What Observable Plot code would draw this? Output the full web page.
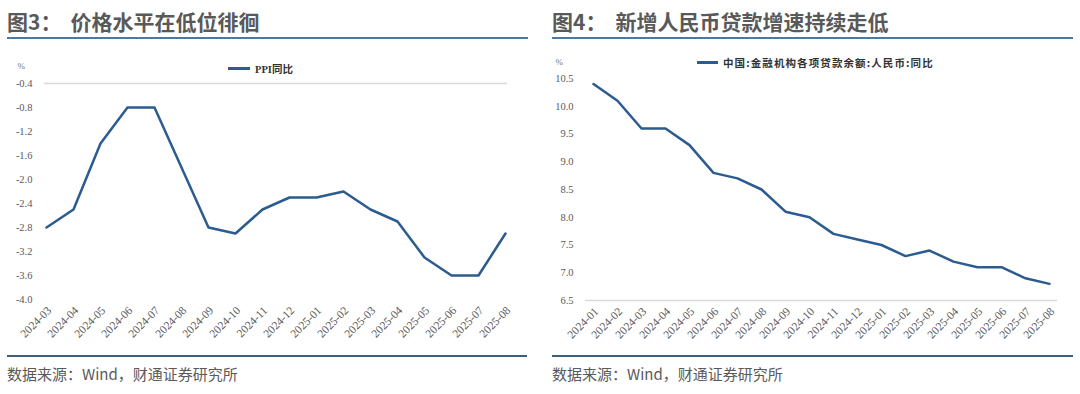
<!DOCTYPE html>
<html>
<head>
<meta charset="utf-8">
<script src="https://cdn.jsdelivr.net/npm/d3@7"></script>
<script src="https://cdn.jsdelivr.net/npm/@observablehq/plot@0.6"></script>
<style>
  html, body { margin: 0; padding: 0; background: #fff; }
  #page { position: relative; width: 1080px; height: 394px; overflow: hidden; background: #fff; }
  .title { position: absolute; top: 9px; font-family: "Noto Sans CJK SC", "Noto Sans", sans-serif; font-size: 21px; line-height: 24px; color: #595959; font-weight: bold; white-space: nowrap; }
  .title .t2 { margin-left: 9px; }
  .rule-top { position: absolute; top: 37px; height: 2px; background: #4a7aa3; }
  .rule-bot { position: absolute; top: 355px; height: 2px; background: #3b5f7c; }
  .caption { position: absolute; top: 364px; font-family: "Noto Sans CJK SC", "Noto Sans", sans-serif; font-size: 15px; line-height: 20px; color: #5a5a5a; white-space: nowrap; }
  .chart { position: absolute; top: 40px; }
  .chart svg text { font-family: "Liberation Serif", "Times New Roman", serif; }
  .legend { position: absolute; display: flex; align-items: center; font-family: "Liberation Serif", "Noto Sans CJK SC", serif; font-weight: bold; font-size: 10.5px; color: #333; white-space: nowrap; }
  .legend .sw { display: inline-block; height: 2.5px; background: #2c5b8f; margin-right: 5px; }
  .legend.cjk { font-family: "Noto Sans CJK SC", sans-serif; font-size: 10.5px; letter-spacing: 1.1px; }
</style>
</head>
<body>
<div id="page">
  <div class="title" style="left:7px;">图3：<span class="t2">价格水平在低位徘徊</span></div>
  <div class="rule-top" style="left:7px; width:521px;"></div>
  <div class="title" style="left:552px;">图4：<span class="t2">新增人民币贷款增速持续走低</span></div>
  <div class="rule-top" style="left:552px; width:521px;"></div>

  <div class="chart" id="left" style="left:0px;"></div>
  <div class="chart" id="right" style="left:540px;"></div>

  <div class="legend" style="left:228px; top:61px;"><span class="sw" style="width:22px;"></span>PPI同比</div>
  <div class="legend cjk" style="left:697px; top:55px;"><span class="sw" style="width:21px;"></span>中国:金融机构各项贷款余额:人民币:同比</div>

  <div class="rule-bot" style="left:7px; width:520px;"></div>
  <div class="rule-bot" style="left:552px; width:521px;"></div>
  <div class="caption" style="left:7px;">数据来源：Wind，财通证券研究所</div>
  <div class="caption" style="left:552px;">数据来源：Wind，财通证券研究所</div>
</div>
<script>
// ---- Data ----
const ppiMonths = ["2024-03","2024-04","2024-05","2024-06","2024-07","2024-08","2024-09","2024-10","2024-11","2024-12","2025-01","2025-02","2025-03","2025-04","2025-05","2025-06","2025-07","2025-08"];
const ppiValues = [-2.8,-2.5,-1.4,-0.8,-0.8,-1.8,-2.8,-2.9,-2.5,-2.3,-2.3,-2.2,-2.5,-2.7,-3.3,-3.6,-3.6,-2.9];
const ppiTicks = [-0.4,-0.8,-1.2,-1.6,-2.0,-2.4,-2.8,-3.2,-3.6,-4.0];

const loanMonths = ["2024-01","2024-02","2024-03","2024-04","2024-05","2024-06","2024-07","2024-08","2024-09","2024-10","2024-11","2024-12","2025-01","2025-02","2025-03","2025-04","2025-05","2025-06","2025-07","2025-08"];
const loanValues = [10.4,10.1,9.6,9.6,9.3,8.8,8.7,8.5,8.1,8.0,7.7,7.6,7.5,7.3,7.4,7.2,7.1,7.1,6.9,6.8];
const loanTicks = [10.5,10.0,9.5,9.0,8.5,8.0,7.5,7.0,6.5];

const ppiData = ppiMonths.map((m, i) => ({month: m, value: ppiValues[i]}));
const loanData = loanMonths.map((m, i) => ({month: m, value: loanValues[i]}));

const lineColor = "#2c5b8f";
const serif = "'Liberation Serif', 'Times New Roman', serif";
const baseStyle = {fontFamily: serif, fontSize: "10.5px", color: "#595959", background: "transparent", overflow: "visible"};

function makeChart(data, months, ticks, yDomain, ruleAt, m, pct) {
  return Plot.plot({
    width: 540, height: 315,
    marginLeft: m.left, marginRight: m.right, marginTop: m.top, marginBottom: m.bottom,
    style: baseStyle,
    x: {type: "point", domain: months, padding: 0, axis: null},
    y: {domain: yDomain},
    marks: [
      Plot.ruleY([ruleAt], {stroke: "#d9d9d9", strokeWidth: 1.5}),
      Plot.axisY({ticks: ticks, tickFormat: d => d.toFixed(1), tickSize: 0, tickPadding: 12, label: null, fontFamily: serif, fontSize: 10.5, fill: "#595959"}),
      Plot.text(months, {x: d => d, text: d => d, frameAnchor: "bottom", rotate: -45, textAnchor: "end", lineAnchor: "middle", dx: 3, dy: 9, fontFamily: serif, fontSize: 11.5, fill: "#595959"}),
      Plot.line(data, {x: "month", y: "value", stroke: lineColor, strokeWidth: 2.5, strokeLinejoin: "round"}),
      Plot.text(["%"], {text: d => d, frameAnchor: "top-left", textAnchor: "start", dx: pct.dx, dy: pct.dy, fontSize: 9, fill: "#777", fontFamily: serif})
    ]
  });
}

document.getElementById("left").append(
  makeChart(ppiData, ppiMonths, ppiTicks, [-4.0, -0.4], -0.4,
    {left: 44, right: 33, top: 43, bottom: 56}, {dx: -27, dy: -21})
);
document.getElementById("right").append(
  makeChart(loanData, loanMonths, loanTicks, [6.5, 10.5], 6.5,
    {left: 45, right: 23, top: 38, bottom: 55}, {dx: -30, dy: -20})
);
</script>
</body>
</html>
